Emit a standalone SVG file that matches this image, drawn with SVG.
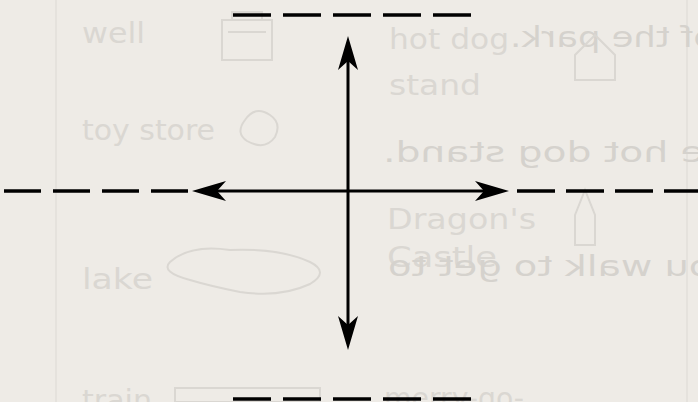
<svg xmlns="http://www.w3.org/2000/svg" width="698" height="402" viewBox="0 0 698 402">
  <style>
    .ghost { font-family: "DejaVu Sans", "Liberation Sans", sans-serif; fill: #dad7d2; }
    .mirror { font-family: "DejaVu Sans", "Liberation Sans", sans-serif; fill: #d5d2cd; }
    .icon { fill: none; stroke: #dad7d2; stroke-width: 2; }
    .axis { stroke: #000; stroke-width: 3; fill: none; }
    .dash { stroke: #000; stroke-width: 3.5; fill: none; }
  </style>
  <defs>
    <marker id="ah" viewBox="-36 -12 40 24" refX="-22" refY="0" markerWidth="40" markerHeight="24" markerUnits="userSpaceOnUse" orient="auto-start-reverse">
      <path d="M0,0 L-34,-10 L-25,0 L-34,10 Z" fill="#000"/>
    </marker>
  </defs>

  <rect width="698" height="402" fill="#eeebe6"/>
  <g id="paper">
    <line x1="56" y1="0" x2="56" y2="402" stroke="#e5e2dd" stroke-width="2"/>
    <line x1="687" y1="0" x2="687" y2="402" stroke="#e5e2dd" stroke-width="2"/>
  </g>

  <g id="ghost-text">
    <text class="ghost" x="82" y="43" font-size="28" textLength="63" lengthAdjust="spacingAndGlyphs">well</text>
    <text class="ghost" x="82" y="140" font-size="28" textLength="133" lengthAdjust="spacingAndGlyphs">toy store</text>
    <text class="ghost" x="82" y="289" font-size="28" textLength="71" lengthAdjust="spacingAndGlyphs">lake</text>
    <text class="ghost" x="82" y="410" font-size="28" textLength="70" lengthAdjust="spacingAndGlyphs">train</text>
    <text class="ghost" x="389" y="49" font-size="28" textLength="120" lengthAdjust="spacingAndGlyphs">hot dog</text>
    <text class="ghost" x="389" y="95" font-size="28" textLength="92" lengthAdjust="spacingAndGlyphs">stand</text>
    <text class="ghost" x="387" y="229" font-size="28" textLength="149" lengthAdjust="spacingAndGlyphs">Dragon's</text>
    <text class="ghost" x="387" y="267" font-size="28" textLength="110" lengthAdjust="spacingAndGlyphs">Castle</text>
    <text class="ghost" x="384" y="408" font-size="28" textLength="140" lengthAdjust="spacingAndGlyphs">merry-go-</text>
    <text class="mirror" transform="scale(-1,1)" x="-715" y="47" font-size="28" textLength="205" lengthAdjust="spacingAndGlyphs">of the park.</text>
    <text class="mirror" transform="scale(-1,1)" x="-745" y="162" font-size="28" textLength="362" lengthAdjust="spacingAndGlyphs">the hot dog stand.</text>
    <text class="mirror" transform="scale(-1,1)" x="-735" y="276" font-size="28" textLength="347" lengthAdjust="spacingAndGlyphs">you walk to get to</text>
  </g>

  <g id="ghost-icons">
    <path class="icon" d="M222,20 h50 v40 h-50 z M228,32 h38 M232,20 v-8 h30 v8"/>
    <path class="icon" d="M245,120 q10,-15 25,-5 q12,8 5,22 q-10,14 -28,4 q-12,-8 -2,-21 z"/>
    <path class="icon" d="M170,262 q20,-18 60,-12 q50,-2 80,12 q20,10 0,22 q-30,14 -70,8 q-30,-6 -50,-12 q-30,-8 -20,-18 z"/>
    <path class="icon" d="M575,215 l10,-25 l10,25 v30 h-20 z"/>
    <path class="icon" d="M575,55 l20,-20 l20,20 v25 h-40 z"/>
    <path class="icon" d="M175,388 h145 v14 h-145 z"/>
  </g>

  <g id="connectors">
    <line class="dash" x1="233" y1="15" x2="473" y2="15" stroke-dasharray="38 12"/>
    <line class="dash" x1="233" y1="399" x2="473" y2="399" stroke-dasharray="38 12"/>
    <line class="dash" x1="4" y1="191" x2="188" y2="191" stroke-dasharray="37 12"/>
    <line class="dash" x1="517" y1="191" x2="698" y2="191" stroke-dasharray="38 11"/>
    <line class="axis" x1="214" y1="191" x2="487" y2="191" marker-start="url(#ah)" marker-end="url(#ah)"/>
    <line class="axis" x1="348" y1="58" x2="348" y2="328" marker-start="url(#ah)" marker-end="url(#ah)"/>
  </g>
</svg>
